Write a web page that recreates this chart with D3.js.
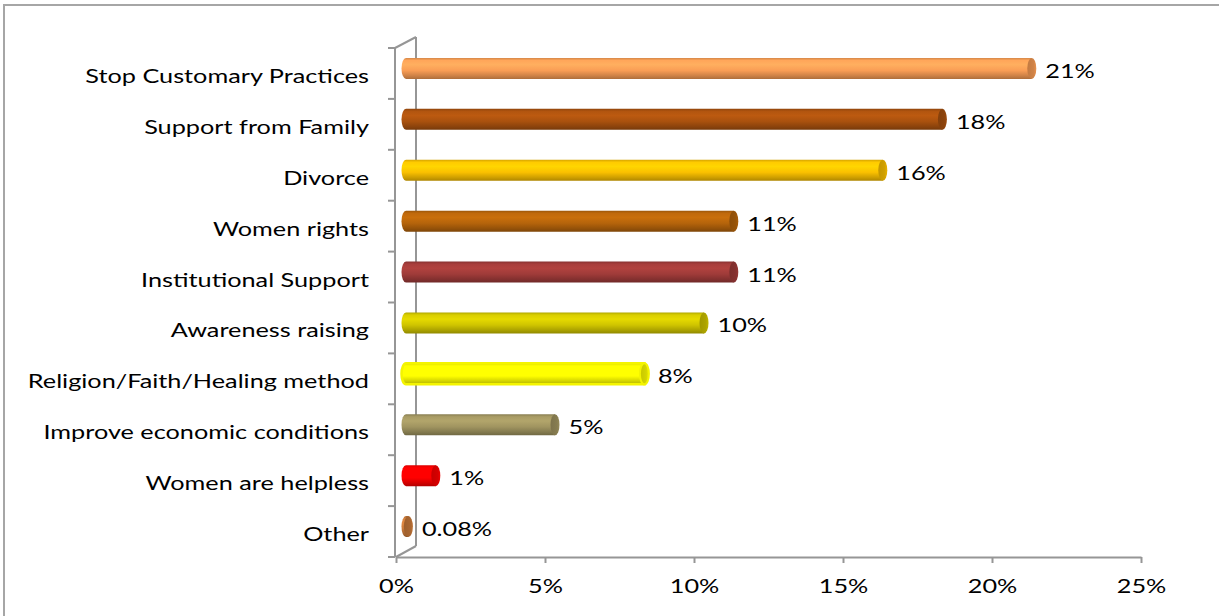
<!DOCTYPE html>
<html>
<head>
<meta charset="utf-8">
<script src="https://cdn.jsdelivr.net/npm/d3@7"></script>
<style>
  html, body { margin: 0; padding: 0; background: #ffffff; }
  svg { display: block; }
  text { font-family: Lato, "Open Sans", sans-serif; fill: #000; }
</style>
</head>
<body>
<svg id="chart" width="1219" height="616"></svg>
<script>
// Responses, top to bottom
const categories = [
  "Stop Customary Practices",
  "Support from Family",
  "Divorce",
  "Women rights",
  "Institutional Support",
  "Awareness raising",
  "Religion/Faith/Healing method",
  "Improve economic conditions",
  "Women are helpless",
  "Other"
];
// Share of responses (%)
const values = [21, 18, 16, 11, 11, 10, 8, 5, 1, 0.08];
const valueLabels = ["21%", "18%", "16%", "11%", "11%", "10%", "8%", "5%", "1%", "0.08%"];
const xTicks = [0, 5, 10, 15, 20, 25];
const xTickLabels = ["0%", "5%", "10%", "15%", "20%", "25%"];

// One cylinder colour per response
const barColors = ["#F99D55", "#A9510E", "#FAC000", "#B5640B", "#9F3B39",
                   "#CFC400", "#FFFF00", "#A09460", "#FF0000", "#CA7A3A"];
const barOutlines = [null, null, null, null, null, null, "#F4F400", null, null, null];

const svg = d3.select("#chart");
const W = 1219, H = 616;
const fontSize = 19;
const stretch = 1.33;           // wide lettering
const depthX = 10, depthY = -5; // half of the 3-D depth offset
const rx = 4.5, ry = 10.5;      // cylinder cap radii
const axisColor = "#969696";

// outer frame
svg.append("rect")
  .attr("x", 4).attr("y", 5).attr("width", W + 20).attr("height", H + 20)
  .attr("fill", "none").attr("stroke", "#a6a6a6").attr("stroke-width", 2);

const x = d3.scaleLinear().domain([0, 25]).range([396, 1141]);
const y = d3.scaleBand().domain(categories).range([48, 557]).paddingInner(0).paddingOuter(0);

// gradients for the cylinders
const defs = svg.append("defs");
barColors.forEach((c, i) => {
  const base = d3.color(c);
  const g = defs.append("linearGradient")
    .attr("id", "cyl" + i)
    .attr("x1", 0).attr("y1", 0).attr("x2", 0).attr("y2", 1);
  const stops = [
    [0, base.darker(0.45)],
    [0.12, base.brighter(0.15)],
    [0.32, base.brighter(0.3)],
    [0.6, base],
    [0.85, base.darker(0.55)],
    [1, base.darker(1.0)]
  ];
  stops.forEach(([o, col]) => g.append("stop").attr("offset", o).attr("stop-color", col.formatHex()));
  const cg = defs.append("linearGradient")
    .attr("id", "cap" + i)
    .attr("x1", 0).attr("y1", 0).attr("x2", 1).attr("y2", 0);
  cg.append("stop").attr("offset", 0).attr("stop-color", base.darker(0.7).formatHex());
  cg.append("stop").attr("offset", 0.7).attr("stop-color", base.darker(0.5).formatHex());
  cg.append("stop").attr("offset", 1).attr("stop-color", base.darker(0.2).formatHex());
});

// back wall and floor edges
const yTop = y.range()[0], yBot = y.range()[1];
const backX = x(0) + 2 * depthX, backTop = yTop + 2 * depthY - 1, backBot = yBot + 2 * depthY - 1;
const walls = svg.append("g").attr("stroke", axisColor).attr("stroke-width", 2).attr("fill", "none");
walls.append("line").attr("x1", backX).attr("x2", backX).attr("y1", backTop).attr("y2", backBot);
walls.append("line").attr("x1", x(0) - 1).attr("y1", yTop).attr("x2", backX).attr("y2", backTop);
walls.append("line").attr("x1", x(0)).attr("y1", yBot).attr("x2", backX).attr("y2", backBot);
// front category axis
walls.append("line").attr("x1", x(0) - 1).attr("x2", x(0) - 1).attr("y1", yTop).attr("y2", yBot);
const bounds = categories.map(c => y(c)).concat([yBot]);
walls.selectAll(".ctick").data(bounds).join("line")
  .attr("class", "ctick")
  .attr("x1", x(0) - 8).attr("x2", x(0) - 1)
  .attr("y1", d => d).attr("y2", d => d);

// value axis
const xAxis = svg.append("g")
  .attr("transform", `translate(0,${yBot})`)
  .call(d3.axisBottom(x).tickValues(xTicks).tickSize(6).tickSizeOuter(0)
    .tickFormat((d, i) => xTickLabels[i]));
xAxis.select(".domain").attr("stroke", axisColor).attr("stroke-width", 2);
xAxis.selectAll(".tick line").attr("stroke", axisColor).attr("stroke-width", 2);
xAxis.attr("font-family", null).attr("font-size", null);
xAxis.selectAll(".tick text")
  .attr("y", null).attr("dy", null)
  .attr("font-size", fontSize)
  .attr("fill", "#000")
  .attr("transform", `translate(0,36) scale(${stretch},1)`);

// category labels
svg.append("g").selectAll("text").data(categories).join("text")
  .attr("text-anchor", "end")
  .attr("font-size", fontSize)
  .attr("transform", d => `translate(369,${y(d) + y.bandwidth() / 2 + 9.5}) scale(${stretch},1)`)
  .text(d => d);

// cylinders
const bars = svg.append("g");
categories.forEach((c, i) => {
  const cy = y(c) + y.bandwidth() / 2 + depthY;
  const xs = x(0) + depthX;
  const xe = x(values[i]) + depthX;
  const body = `M${xs},${cy - ry} L${xe},${cy - ry} L${xe},${cy + ry} L${xs},${cy + ry} A${rx},${ry} 0 0 1 ${xs},${cy - ry} Z`;
  const g = bars.append("g");
  g.append("path").attr("d", body)
    .attr("fill", `url(#cyl${i})`)
    .attr("stroke", barOutlines[i] || "none")
    .attr("stroke-width", barOutlines[i] ? 2.5 : 0);
  g.append("ellipse")
    .attr("cx", xe).attr("cy", cy).attr("rx", rx).attr("ry", ry)
    .attr("fill", `url(#cap${i})`)
    .attr("stroke", barOutlines[i] || "none")
    .attr("stroke-width", barOutlines[i] ? 2 : 0);
  // value label
  svg.append("text")
    .attr("font-size", fontSize)
    .attr("transform", `translate(${xe + rx + 9},${cy + 9.5}) scale(${stretch},1)`)
    .text(valueLabels[i]);
});
</script>
</body>
</html>
